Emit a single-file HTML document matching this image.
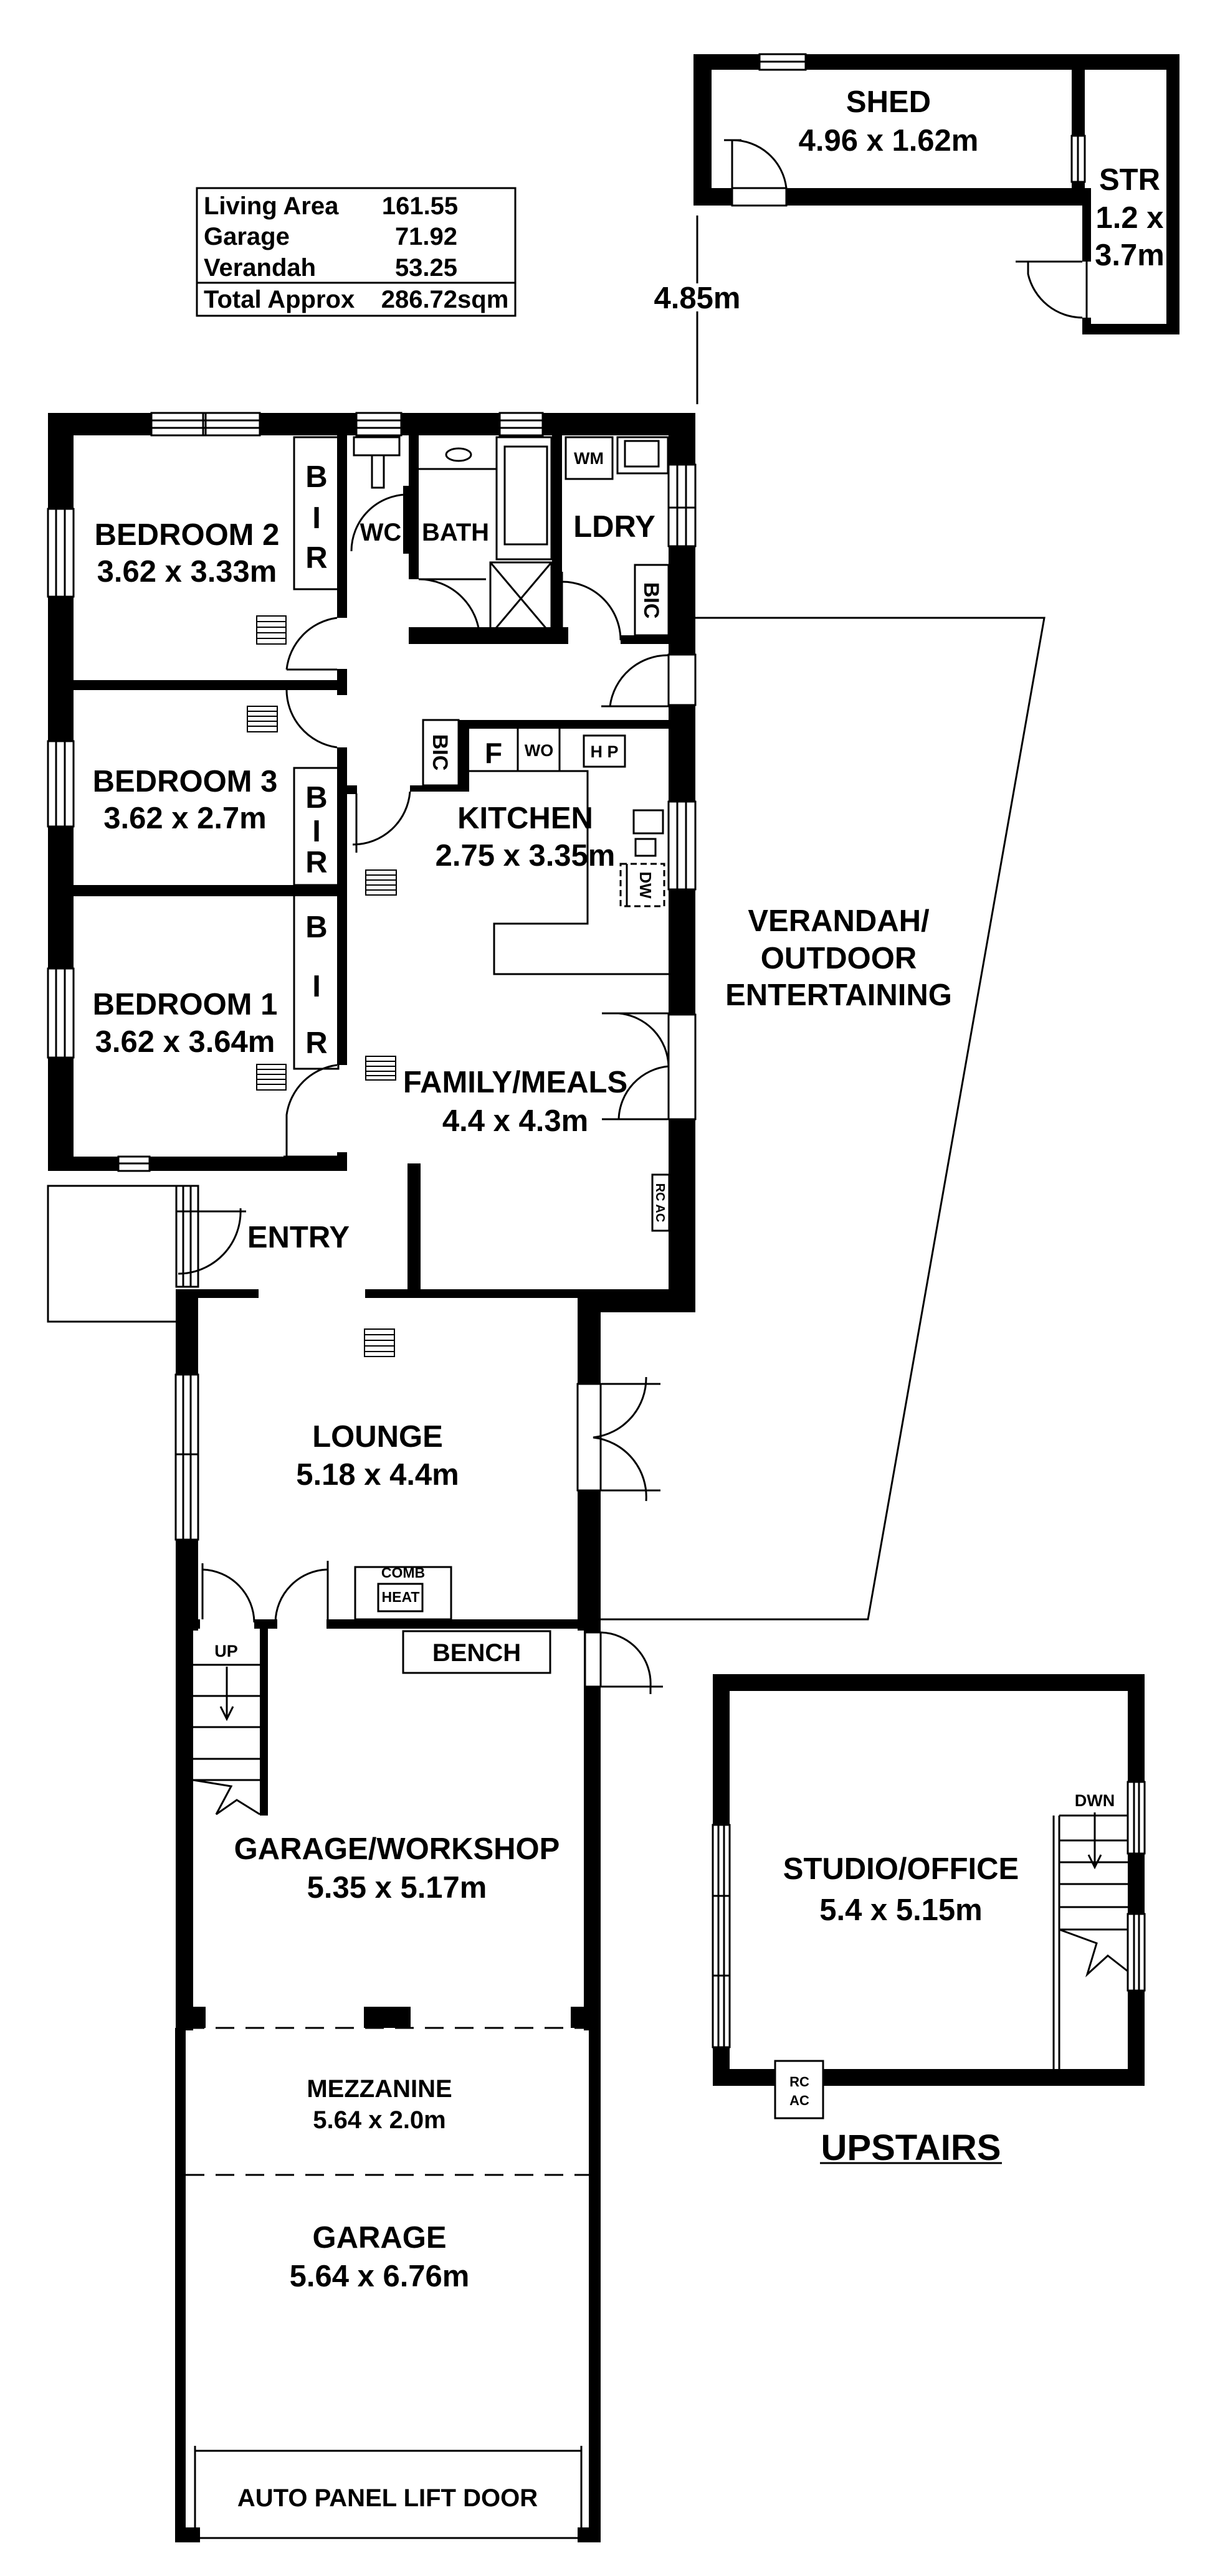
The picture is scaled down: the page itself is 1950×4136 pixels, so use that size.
<!DOCTYPE html>
<html><head><meta charset="utf-8"><style>
html,body{margin:0;padding:0;background:#fff;}
svg{display:block;}
text{font-family:"Liberation Sans",Arial,sans-serif;font-weight:bold;fill:#000;text-anchor:middle;}
</style></head><body>
<svg width="1950" height="4136" viewBox="0 0 1950 4136" xmlns="http://www.w3.org/2000/svg">
<rect width="1950" height="4136" fill="#fff"/>
<g fill="#000">
<!-- SHED -->
<rect x="1113" y="87" width="780" height="25"/>
<rect x="1113" y="87" width="29" height="243"/>
<rect x="1113" y="302" width="628" height="28"/>
<rect x="1720" y="87" width="21" height="243"/>
<rect x="1872" y="87" width="21" height="450"/>
<rect x="1737" y="520" width="156" height="17"/>
<rect x="1737" y="302" width="14" height="118"/>
<rect x="1737" y="510" width="14" height="27"/>
<!-- HOUSE exterior -->
<rect x="77" y="663" width="1039" height="36"/>
<rect x="77" y="663" width="41" height="1217"/>
<rect x="1073" y="663" width="43" height="1444"/>
<rect x="77" y="1857" width="479" height="23"/>
<!-- bedroom dividers -->
<rect x="118" y="1092" width="438" height="16"/>
<rect x="118" y="1421" width="430" height="18"/>
<!-- hall vertical wall -->
<rect x="541" y="699" width="16" height="293"/>
<rect x="541" y="1074" width="16" height="42"/>
<rect x="541" y="1200" width="16" height="510"/>
<rect x="541" y="1850" width="16" height="30"/>
<!-- wc/bath/laundry walls -->
<rect x="647" y="780" width="13" height="109"/>
<rect x="656" y="699" width="16" height="231"/>
<rect x="656" y="1007" width="256" height="27"/>
<rect x="886" y="699" width="16" height="335"/>
<rect x="996" y="1020" width="78" height="14"/>
<!-- kitchen walls -->
<rect x="736" y="1156" width="338" height="14"/>
<rect x="736" y="1156" width="17" height="115"/>
<rect x="658" y="1261" width="95" height="10"/>
<rect x="557" y="1261" width="16" height="14"/>
<!-- entry/family wall -->
<rect x="654" y="1868" width="21" height="216"/>
<!-- lounge top -->
<rect x="283" y="2070" width="132" height="14"/>
<rect x="586" y="2070" width="530" height="14"/>
<rect x="927" y="2070" width="189" height="37"/>
<!-- lounge walls -->
<rect x="282" y="2070" width="36" height="548"/>
<rect x="927" y="2070" width="37" height="548"/>
<rect x="524" y="2600" width="440" height="15"/>
<rect x="408" y="2600" width="37" height="15"/>
<rect x="282" y="2600" width="39" height="15"/>
<!-- garage/workshop -->
<rect x="282" y="2600" width="28" height="660"/>
<rect x="417" y="2615" width="13" height="300"/>
<rect x="937" y="2600" width="27" height="660"/>
<rect x="306" y="3222" width="24" height="34"/>
<rect x="584" y="3222" width="75" height="34"/>
<rect x="916" y="3222" width="28" height="34"/>
<rect x="281" y="3256" width="17" height="826"/>
<rect x="945" y="3256" width="19" height="826"/>
<rect x="281" y="4058" width="40" height="24"/>
<rect x="927" y="4058" width="37" height="24"/>
<!-- studio -->
<rect x="1144" y="2688" width="693" height="27"/>
<rect x="1144" y="3322" width="693" height="27"/>
<rect x="1144" y="2688" width="27" height="661"/>
<rect x="1810" y="2688" width="27" height="661"/>
</g>

<g fill="#fff" stroke="#000" stroke-width="3">
<!-- windows (white gaps) -->
<rect x="243" y="663" width="174" height="36"/>
<rect x="572" y="663" width="72" height="36"/>
<rect x="802" y="663" width="69" height="36"/>
<rect x="77" y="817" width="41" height="141"/>
<rect x="77" y="1190" width="41" height="137"/>
<rect x="77" y="1555" width="41" height="143"/>
<rect x="190" y="1857" width="50" height="23"/>
<rect x="1073" y="746" width="43" height="131"/>
<rect x="1073" y="1051" width="43" height="81"/>
<rect x="1073" y="1287" width="43" height="141"/>
<rect x="1073" y="1629" width="43" height="168"/>
<rect x="283" y="1904" width="35" height="162"/>
<rect x="282" y="2207" width="36" height="265"/>
<rect x="927" y="2222" width="37" height="171"/>
<rect x="939" y="2621" width="25" height="87"/>
<rect x="1219" y="87" width="74" height="25"/>
<rect x="1720" y="218" width="21" height="74"/>
<rect x="1175" y="302" width="87" height="28"/>
<rect x="1144" y="2930" width="27" height="357"/>
<rect x="1810" y="2861" width="27" height="115"/>
<rect x="1810" y="3073" width="27" height="123"/>
</g>
<g stroke="#000" stroke-width="3" fill="none">
<!-- window inner lines -->
<path d="M243 675H417M243 687H417M330 663V699M326 663V699M572 675H644M572 687H644M802 675H871M802 687H871"/>
<path d="M90 817V958M104 817V958M90 1190V1327M104 1190V1327M90 1555V1698M104 1555V1698M190 1868H240"/>
<path d="M1087 746V877M1101 746V877M1073 815H1116M1087 1287V1428M1101 1287V1428"/>
<path d="M294 1904V2066M306 1904V2066M294 2207V2472M306 2207V2472M282 2335H318"/>
<path d="M1219 99H1293M1730 218V292M1153 2930V3287M1162 2930V3287M1144 3044H1171M1144 3172H1171M1820 2861V2976M1828 2861V2976M1820 3073V3196M1828 3073V3196"/>
<!-- STR thin walls -->
<path d="M1744 330V510"/>
<!-- table -->
<rect x="316" y="302" width="511" height="205"/>
<path d="M316 454H827"/>
<!-- 4.85 line -->
<path d="M1119 346V455M1119 500V649"/>
<!-- verandah -->
<path d="M1116 992H1676L1393 2600H964"/>
<!-- BIR boxes -->
<rect x="472" y="702" width="71" height="244"/>
<rect x="472" y="1233" width="71" height="188"/>
<rect x="472" y="1437" width="71" height="279"/>
<!-- wc basin toilet -->
<rect x="568" y="702" width="73" height="29"/>
<rect x="597" y="731" width="19" height="52"/>
<!-- bath -->
<ellipse cx="736" cy="730" rx="20" ry="10"/>
<path d="M672 753H797"/>
<rect x="797" y="702" width="88" height="196"/>
<rect x="810" y="717" width="68" height="157"/>
<rect x="787" y="903" width="98" height="116"/>
<path d="M787 903L885 1019M885 903L787 1019"/>
<!-- laundry -->
<rect x="908" y="702" width="75" height="67"/>
<rect x="991" y="702" width="81" height="58"/>
<rect x="1003" y="708" width="54" height="41"/>
<rect x="1019" y="907" width="54" height="113"/>
<!-- kitchen -->
<rect x="679" y="1156" width="57" height="105"/>
<path d="M753 1238H943V1483H793V1564H1073M831 1170V1238M898 1170V1238"/>
<rect x="937" y="1181" width="66" height="50"/>
<rect x="1017" y="1301" width="47" height="37"/>
<rect x="1020" y="1347" width="32" height="27"/>
<rect x="996" y="1387" width="70" height="68" stroke-dasharray="10,6"/>
<path d="M1006 1387V1455"/>
<rect x="1047" y="1886" width="27" height="90"/>
<!-- porch box -->
<path d="M283 1904H77V2122H283"/>
<!-- comb heat, bench -->
<rect x="570" y="2516" width="154" height="84"/>
<rect x="607" y="2543" width="71" height="44"/>
<rect x="647" y="2619" width="236" height="67"/>
<!-- stairs -->
<path d="M310 2673H417M310 2723H417M310 2773H417M310 2824H417M310 2858H417"/>
<path d="M364 2676V2758M354 2740L364 2760L374 2740"/>
<path d="M310 2858L371 2868L347 2913L380 2890L417 2913"/>
<!-- dashed lines -->
<path d="M298 3256H945M298 3492H945" stroke-dasharray="30,18"/>
<!-- auto door -->
<path d="M313 3927V4082M933 3927V4082M313 3935H933M313 4075H933"/>
<!-- studio stairs -->
<path d="M1691 2915V3322M1700 2915V3322M1700 2915H1810M1700 2955H1810M1700 2990H1810M1700 3025H1810M1700 3062H1810M1700 3098H1810"/>
<path d="M1757 2910V2995M1747 2978L1757 2998L1767 2978"/>
<path d="M1700 3098L1760 3120L1745 3170L1778 3140L1810 3165"/>
<rect x="1244" y="3309" width="77" height="92" fill="#fff"/>
<path d="M1316 3473H1608"/>
<!-- vents -->
<g stroke-width="2">
<rect x="412" y="989" width="47" height="45"/><path d="M412 998H459M412 1007H459M412 1016H459M412 1025H459"/>
<rect x="397" y="1134" width="48" height="41"/><path d="M397 1142H445M397 1150H445M397 1158H445M397 1166H445"/>
<rect x="587" y="1397" width="49" height="40"/><path d="M587 1405H636M587 1413H636M587 1421H636M587 1429H636"/>
<rect x="412" y="1709" width="47" height="41"/><path d="M412 1717H459M412 1725H459M412 1733H459M412 1741H459"/>
<rect x="587" y="1696" width="48" height="38"/><path d="M587 1704H635M587 1712H635M587 1720H635M587 1727H635"/>
<rect x="585" y="2134" width="48" height="44"/><path d="M585 2143H633M585 2152H633M585 2161H633M585 2170H633"/>
</g>
<!-- doors -->
<path d="M1175 225V302M1175 225A87 87 0 0 1 1262 302M1162 225H1190"/>
<path d="M1737 420H1630M1650 420V440A90 90 0 0 0 1737 510"/>
<path d="M655 780V889M655 794A91 91 0 0 0 564 885"/>
<path d="M672 930H780M672 930A98 98 0 0 1 770 1030"/>
<path d="M902 918V1034M902 934A94 94 0 0 1 996 1028"/>
<path d="M1073 1052A94 94 0 0 0 979 1134M965 1134H1073"/>
<path d="M541 992A94 94 0 0 0 460 1075M460 1075H541M460 1104H541M460 1104A94 94 0 0 0 541 1200"/>
<path d="M572 1274V1369M658 1271A92 92 0 0 1 566 1356"/>
<path d="M541 1710A94 94 0 0 0 460 1790V1857M455 1857H541"/>
<path d="M966 1627H1073M993 1627A88 88 0 0 1 1073 1712M966 1797H1073M1073 1712A88 88 0 0 0 993 1797"/>
<path d="M283 1945H395M386 1940A100 100 0 0 1 286 2045"/>
<path d="M964 2222H1060M1037 2211A96 96 0 0 1 952 2308A96 96 0 0 1 1037 2410M964 2393H1060"/>
<path d="M325 2510V2600M325 2520A86 86 0 0 1 408 2605M526 2506V2600M526 2520A86 86 0 0 0 442 2605"/>
<path d="M964 2621A82 82 0 0 1 1044 2708V2720M964 2708H1064"/>
</g>

<!-- TEXT -->
<g font-size="40">
<text x="327" y="344" style="text-anchor:start">Living Area</text>
<text x="674" y="344">161.55</text>
<text x="327" y="393" style="text-anchor:start">Garage</text>
<text x="684" y="393">71.92</text>
<text x="327" y="443" style="text-anchor:start">Verandah</text>
<text x="684" y="443">53.25</text>
<text x="327" y="494" style="text-anchor:start">Total Approx</text>
<text x="714" y="494">286.72sqm</text>
</g>
<g font-size="49">
<text x="1426" y="180">SHED</text>
<text x="1426" y="242">4.96 x 1.62m</text>
<text x="1813" y="305">STR</text>
<text x="1813" y="366">1.2 x</text>
<text x="1813" y="426">3.7m</text>
<text x="1119" y="495">4.85m</text>
<text x="300" y="875">BEDROOM 2</text>
<text x="300" y="934">3.62 x 3.33m</text>
<text x="297" y="1271">BEDROOM 3</text>
<text x="297" y="1330">3.62 x 2.7m</text>
<text x="297" y="1629">BEDROOM 1</text>
<text x="297" y="1689">3.62 x 3.64m</text>
<text x="508" y="782">B</text><text x="508" y="848">I</text><text x="508" y="912">R</text>
<text x="508" y="1297">B</text><text x="508" y="1351">I</text><text x="508" y="1401">R</text>
<text x="508" y="1505">B</text><text x="508" y="1600">I</text><text x="508" y="1691">R</text>
<text x="986" y="862">LDRY</text>
<text x="843" y="1330">KITCHEN</text>
<text x="843" y="1390">2.75 x 3.35m</text>
<text x="827" y="1754">FAMILY/MEALS</text>
<text x="827" y="1816">4.4 x 4.3m</text>
<text x="479" y="2003">ENTRY</text>
<text x="606" y="2323">LOUNGE</text>
<text x="606" y="2384">5.18 x 4.4m</text>
<text x="637" y="2985">GARAGE/WORKSHOP</text>
<text x="637" y="3047">5.35 x 5.17m</text>
<text x="609" y="3609">GARAGE</text>
<text x="609" y="3671">5.64 x 6.76m</text>
<text x="1346" y="1495">VERANDAH/</text>
<text x="1346" y="1555">OUTDOOR</text>
<text x="1346" y="1614">ENTERTAINING</text>
<text x="1446" y="3017">STUDIO/OFFICE</text>
<text x="1446" y="3083">5.4 x 5.15m</text>
</g>
<g font-size="40">
<text x="611" y="868">WC</text>
<text x="731" y="868">BATH</text>
<text x="765" y="2667">BENCH</text>
<text x="609" y="3367">MEZZANINE</text>
<text x="609" y="3417">5.64 x 2.0m</text>
<text x="622" y="4024">AUTO PANEL LIFT DOOR</text>
</g>
<text x="1462" y="3468" font-size="58">UPSTAIRS</text>
<text x="792" y="1225" font-size="46">F</text>
<g font-size="27">
<text x="945" y="745">WM</text>
<text x="865" y="1214">WO</text>
<text x="970" y="1216">H P</text>
<text x="363" y="2660">UP</text>
<text x="1757" y="2900">DWN</text>
<text x="1283" y="3350" font-size="22">RC</text>
<text x="1283" y="3380" font-size="22">AC</text>
<text x="647" y="2533" font-size="23">COMB</text>
<text x="643" y="2572" font-size="23">HEAT</text>
</g>
<text transform="translate(1046 964) rotate(90)" font-size="34" y="12">BIC</text>
<text transform="translate(707 1208) rotate(90)" font-size="34" y="12">BIC</text>
<text transform="translate(1036 1421) rotate(90)" font-size="26" y="9">DW</text>
<text transform="translate(1060 1931) rotate(90)" font-size="20" y="7">RC AC</text>
</svg>
</body></html>
